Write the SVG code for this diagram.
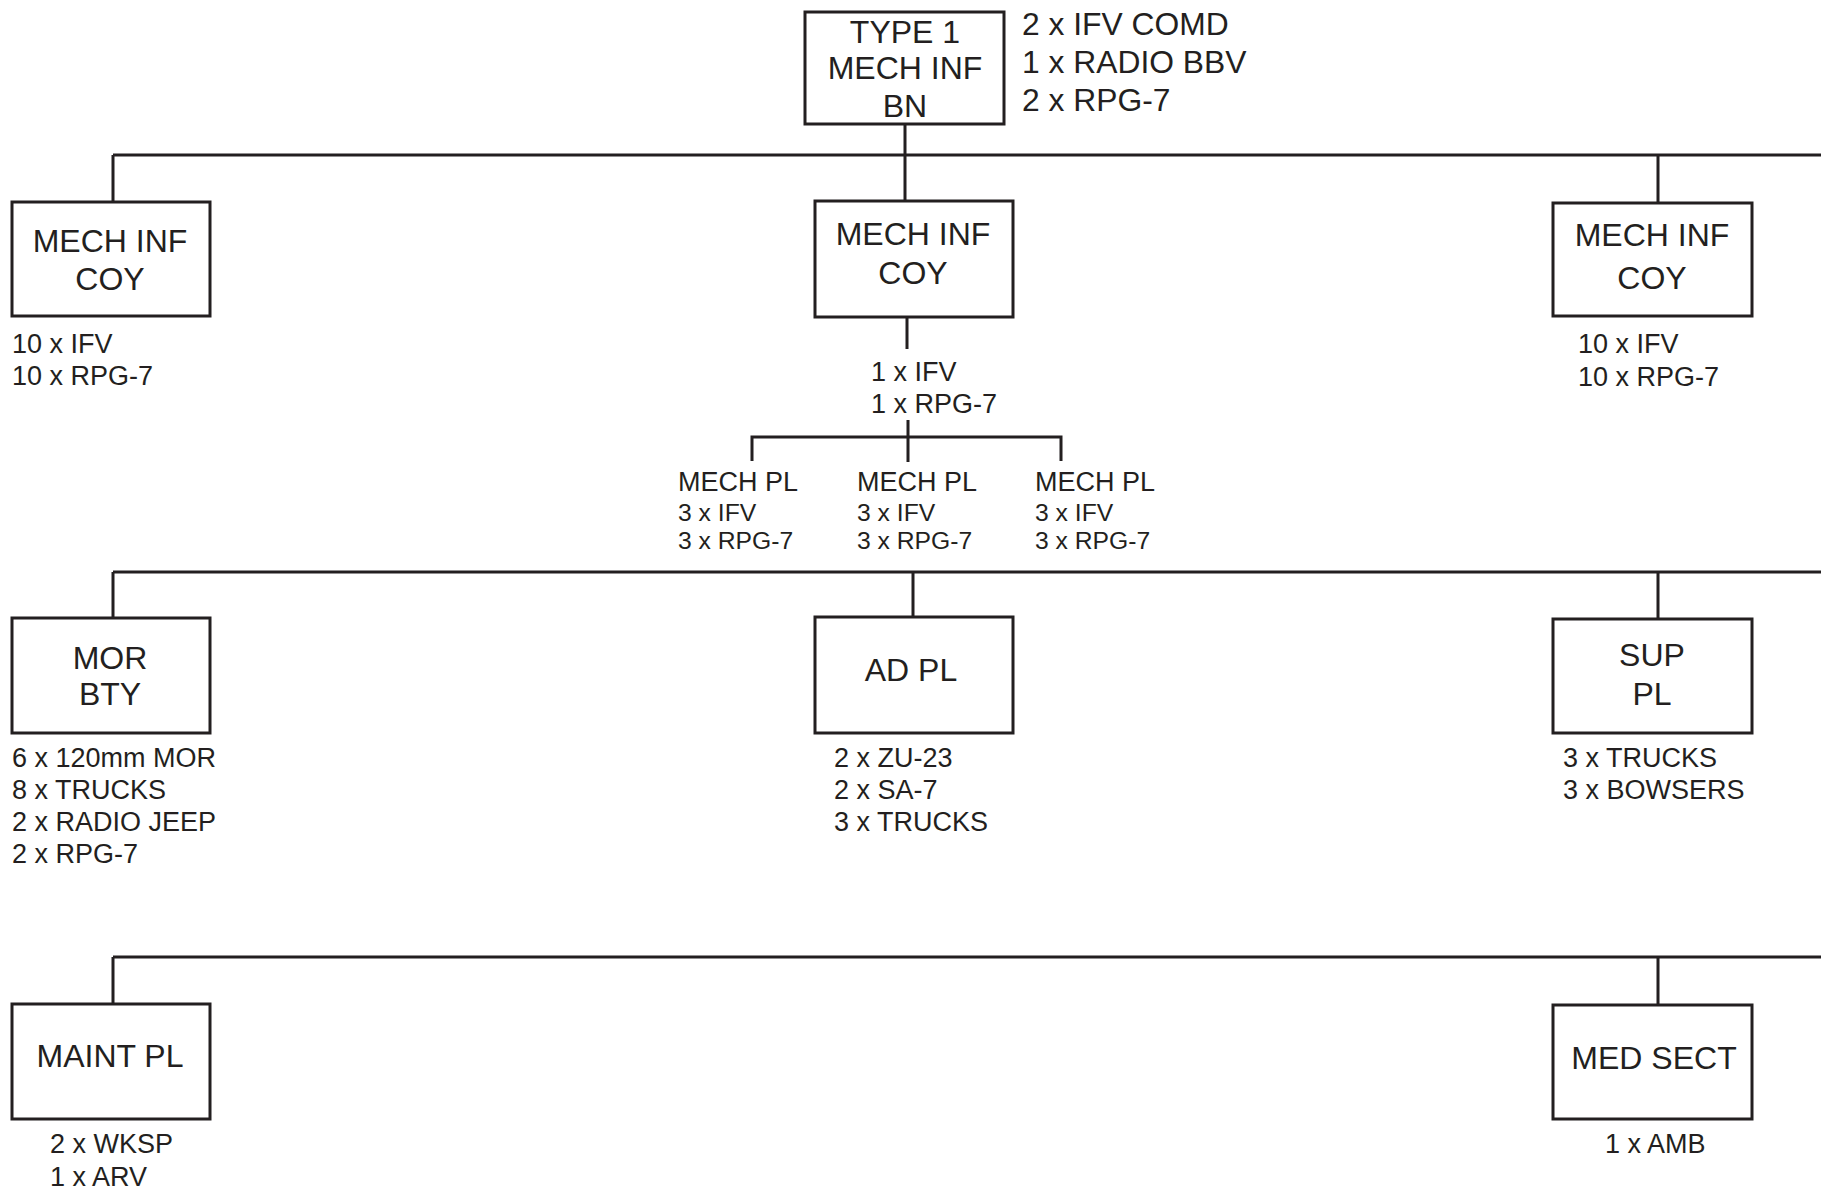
<svg xmlns="http://www.w3.org/2000/svg" width="1821" height="1189" viewBox="0 0 1821 1189">
<style>
.box{fill:#fff;stroke:#231f20;stroke-width:3}
.ln{stroke:#231f20;stroke-width:3;fill:none}
text{font-family:"Liberation Sans",Arial,sans-serif;fill:#231f20}
.t{font-size:32px;text-anchor:middle}
.r{font-size:31.8px}
.s{font-size:27px}
.p{font-size:27px}
.q{font-size:24.7px}
</style>
<rect width="1821" height="1189" fill="#fff"/>
<g id="connectors">
<path class="ln" d="M905 124V201M113 155H1821M113 155V202M1658 155V203M907 317V349M908 420V462M752 461V437H1061V461M113 572H1821M113 572V618M913 572V617M1658 572V619M113 957H1821M113 957V1004M1658 957V1005"/>
</g>
<g id="bn">
<rect class="box" x="805" y="12" width="199" height="112"/>
<text class="t" x="905" y="43">TYPE 1</text>
<text class="t" x="905" y="79">MECH INF</text>
<text class="t" x="905" y="117">BN</text>
<text class="r" x="1022" y="35">2 x IFV COMD</text>
<text class="r" x="1022" y="73">1 x RADIO BBV</text>
<text class="r" x="1022" y="111">2 x RPG-7</text>
</g>
<g id="coy1">
<rect class="box" x="12" y="202" width="198" height="114"/>
<text class="t" x="110" y="252">MECH INF</text>
<text class="t" x="110" y="290">COY</text>
<text class="s" x="12" y="353">10 x IFV</text>
<text class="s" x="12" y="385">10 x RPG-7</text>
</g>
<g id="coy2">
<rect class="box" x="815" y="201" width="198" height="116"/>
<text class="t" x="913" y="245">MECH INF</text>
<text class="t" x="913" y="284">COY</text>
<text class="s" x="871" y="381">1 x IFV</text>
<text class="s" x="871" y="413">1 x RPG-7</text>
</g>
<g id="pl1">
<text class="p" x="678" y="491">MECH PL</text>
<text class="q" x="678" y="521">3 x IFV</text>
<text class="q" x="678" y="549">3 x RPG-7</text>
</g>
<g id="pl2">
<text class="p" x="857" y="491">MECH PL</text>
<text class="q" x="857" y="521">3 x IFV</text>
<text class="q" x="857" y="549">3 x RPG-7</text>
</g>
<g id="pl3">
<text class="p" x="1035" y="491">MECH PL</text>
<text class="q" x="1035" y="521">3 x IFV</text>
<text class="q" x="1035" y="549">3 x RPG-7</text>
</g>
<g id="coy3">
<rect class="box" x="1553" y="203" width="199" height="113"/>
<text class="t" x="1652" y="246">MECH INF</text>
<text class="t" x="1652" y="289">COY</text>
<text class="s" x="1578" y="353">10 x IFV</text>
<text class="s" x="1578" y="386">10 x RPG-7</text>
</g>
<g id="mor">
<rect class="box" x="12" y="618" width="198" height="115"/>
<text class="t" x="110" y="669">MOR</text>
<text class="t" x="110" y="705">BTY</text>
<text class="s" x="12" y="767">6 x 120mm MOR</text>
<text class="s" x="12" y="799">8 x TRUCKS</text>
<text class="s" x="12" y="831">2 x RADIO JEEP</text>
<text class="s" x="12" y="863">2 x RPG-7</text>
</g>
<g id="ad">
<rect class="box" x="815" y="617" width="198" height="116"/>
<text class="t" x="911" y="681">AD PL</text>
<text class="s" x="834" y="767">2 x ZU-23</text>
<text class="s" x="834" y="799">2 x SA-7</text>
<text class="s" x="834" y="831">3 x TRUCKS</text>
</g>
<g id="sup">
<rect class="box" x="1553" y="619" width="199" height="114"/>
<text class="t" x="1652" y="666">SUP</text>
<text class="t" x="1652" y="705">PL</text>
<text class="s" x="1563" y="767">3 x TRUCKS</text>
<text class="s" x="1563" y="799">3 x BOWSERS</text>
</g>
<g id="maint">
<rect class="box" x="12" y="1004" width="198" height="115"/>
<text class="t" x="110" y="1067">MAINT PL</text>
<text class="s" x="50" y="1153">2 x WKSP</text>
<text class="s" x="50" y="1186">1 x ARV</text>
</g>
<g id="med">
<rect class="box" x="1553" y="1005" width="199" height="114"/>
<text class="t" x="1654" y="1069">MED SECT</text>
<text class="s" x="1605" y="1153">1 x AMB</text>
</g>
</svg>
